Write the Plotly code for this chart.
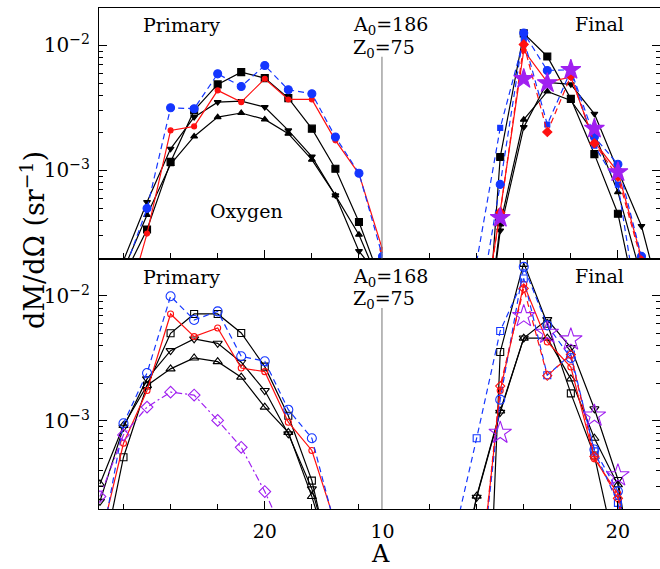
import plotly.graph_objects as go

# ---------------- data ----------------
# Primary fragments (left halves), even mass numbers
A_PRI_186 = [32, 30, 28, 26, 24, 22, 20, 18, 16, 14, 12, 10]
pri186_sq = [1.4e-4, 3.37e-4, 1.17e-3, 3.02e-3, 4.88e-3, 6.12e-3, 5.48e-3, 3.79e-3, 2.16e-3, 1.03e-3, 3.86e-4, 1.2e-4]
pri186_dt = [1.9e-4, 5.58e-4, 1.49e-3, 2.67e-3, 3.52e-3, 3.59e-3, 3.21e-3, 2.09e-3, 1.29e-3, 6.31e-4, 2.26e-4, 1.3e-4]
pri186_ut = [1.6e-4, 4.4e-4, 1.12e-3, 1.87e-3, 2.67e-3, 2.88e-3, 2.56e-3, 1.97e-3, 1.22e-3, 6.31e-4, 3.06e-4, 1.1e-4]
pri186_rc = [6.8e-5, 3.12e-4, 2.09e-3, 2.25e-3, 4.37e-3, 3.52e-3, 5.41e-3, 3.70e-3, 3.70e-3, 1.74e-3, 9.4e-4, 2.32e-4]
pri186_bc = [1.5e-4, 4.97e-4, 3.17e-3, 3.12e-3, 5.93e-3, 4.70e-3, 6.92e-3, 4.42e-3, 4.11e-3, 1.85e-3, 9.5e-4, 2.05e-4]

A_PRI_168 = [34, 32, 30, 28, 26, 24, 22, 20, 18, 16, 14]
pri168_sq = [6.3e-5, 5.12e-4, 1.92e-3, 5.03e-3, 7.18e-3, 7.18e-3, 5.06e-3, 2.72e-3, 1.10e-3, 3.33e-4, 5e-5]
pri168_dt = [2.27e-4, 8.9e-4, 2.17e-3, 3.65e-3, 4.53e-3, 4.18e-3, 2.95e-3, 1.75e-3, 7.87e-4, 2.86e-4, 6e-5]
pri168_ut = [3.13e-4, 9.2e-4, 1.92e-3, 2.61e-3, 3.19e-3, 2.98e-3, 2.24e-3, 1.29e-3, 8.1e-4, 2.48e-4, 6e-5]
pri168_rc = [1.07e-4, 6.62e-4, 1.75e-3, 7.18e-3, 4.73e-3, 5.54e-3, 2.65e-3, 2.48e-3, 9.76e-4, 5.8e-4, 1.5e-4]
pri168_bc = [8.9e-5, 9.57e-4, 2.42e-3, 9.95e-3, 6.43e-3, 7.53e-3, 3.29e-3, 3.0e-3, 1.23e-3, 7.27e-4, 1.4e-4]
pri168_dm = [2.48e-4, 7.73e-4, 1.29e-3, 1.70e-3, 1.61e-3, 1.01e-3, 6.15e-4, 2.72e-4, 1.05e-4, None, None]

# Final (cold) fragments (right halves)
A_FIN_186 = [14, 15, 16, 17, 18, 19, 20, 21, 22]
fin186_sq = [3e-6, 1.28e-3, 1.25e-2, 8.17e-3, 3.74e-3, 1.35e-3, 4.5e-4, 5.7e-5, None]
fin186_dt = [1e-5, 3.3e-4, 2.22e-3, 5.06e-3, 4.88e-3, 2.84e-3, 1.0e-3, 3.59e-4, 6.8e-5]
fin186_ut = [1e-5, 3.7e-4, 2.55e-3, 4.29e-3, 3.63e-3, 1.97e-3, 6.7e-4, 1.4e-4, None]
fin186_rc = [3e-5, 4.73e-4, 9.12e-3, 5.09e-3, 5.58e-3, 1.69e-3, 9.7e-4, 2.0e-4, None]
fin186_bc = [5.9e-5, 7.73e-4, 1.26e-2, 6.31e-3, 6.39e-3, 1.85e-3, 1.12e-3, 2.05e-4, None]
fin186_bs = [1.86e-4, 2.19e-3, 1.12e-2, 2.33e-3, 6.3e-3, 1.58e-3, 7.7e-4, 5e-5, None]
fin186_rd = [3e-5, 4.6e-4, 1.02e-2, 2.03e-3, 5.7e-3, 1.65e-3, 8.9e-4, 1.9e-4, None]
fin186_st = [None, 4.18e-4, 5.41e-3, 5.0e-3, 6.39e-3, 2.16e-3, 9.7e-4, None, None]

A_FIN_168 = [13, 14, 15, 16, 17, 18, 19, 20, 21]
fin168_sq = [None, 1e-7, 3.56e-3, 1.84e-2, 6.0e-3, 1.66e-3, 5.28e-4, 7.4e-5, None]
fin168_dt = [3e-5, 2.45e-4, 1.17e-3, 4.61e-3, 6.47e-3, 3.86e-3, 1.25e-3, 3.4e-4, 2e-5]
fin168_ut = [3e-5, 2.5e-4, 1.2e-3, 4.6e-3, 4.6e-3, 2.17e-3, 7.27e-4, 3.08e-4, 2e-5]
fin168_rc = [None, 3e-5, 1.75e-3, 1.24e-2, 4.28e-3, 2.7e-3, 4.97e-4, 2.61e-4, 3e-5]
fin168_bc = [None, 3e-5, 1.48e-3, 1.71e-2, 5.82e-3, 3.19e-3, 5.9e-4, 2.73e-4, 3e-5]
fin168_bs = [1.1e-4, 7.27e-4, 5.25e-3, 1.38e-2, 2.32e-3, 3.4e-3, 5.7e-4, 2.21e-4, 2e-5]
fin168_rd = [None, 3e-5, 1.9e-3, 1.15e-2, 2.3e-3, 3.4e-3, 5.2e-4, 2.4e-4, 2e-5]
fin168_st = [None, None, 8.02e-4, 6.88e-3, 5.06e-3, 4.48e-3, 1.10e-3, 3.66e-4, None]

Y_TICKS = [1e-3, 1e-2]
Y_TICK_TEXT = ["10<sup>\u22123</sup>", "10<sup>\u22122</sup>"]

# ---------------- styles ----------------
BLACK = "#000000"
RED = "#ff1010"
BLUE = "#1436ff"
PURPLE = "#a020f0"
DASH = "6px,4px"
DASHDOT = "7px,3px,2px,3px"

STY = {
    "sq": dict(symbol="square", color=BLACK, size=7, dash="solid"),
    "dt": dict(symbol="triangle-down", color=BLACK, size=6, dash="solid"),
    "ut": dict(symbol="triangle-up", color=BLACK, size=6, dash="solid"),
    "rc": dict(symbol="circle", color=RED, size=5, dash="solid"),
    "bc": dict(symbol="circle", color=BLUE, size=8, dash=DASH),
    "bs": dict(symbol="square", color=BLUE, size=5, dash=DASH),
    "rd": dict(symbol="diamond", color=RED, size=7, dash=DASH),
    "st": dict(symbol="star", color=PURPLE, size=15, dash=None),
    "dm": dict(symbol="diamond", color=PURPLE, size=9, dash=DASHDOT),
}
OPEN_SIZE = {"sq": 7, "dt": 8, "ut": 8, "rc": 6, "bc": 9, "bs": 7, "rd": 7, "st": 17, "dm": 9}

fig = go.Figure()


def add(x, y, key, xa, ya, filled):
    s = STY[key]
    sym = s["symbol"] if filled else s["symbol"] + "-open"
    size = s["size"] if filled else OPEN_SIZE[key]
    mode = "markers" if s["dash"] is None else "lines+markers"
    fig.add_trace(go.Scatter(
        x=x, y=y, mode=mode, xaxis=xa, yaxis=ya, showlegend=False,
        connectgaps=False,
        line=dict(color=s["color"], width=1.2, dash=s["dash"] or "solid"),
        marker=dict(symbol=sym, size=size, color=s["color"],
                    line=dict(color=s["color"], width=1.1)),
    ))


# A0=186 (filled symbols)
for key, vals in [("sq", pri186_sq), ("dt", pri186_dt), ("ut", pri186_ut),
                  ("rc", pri186_rc), ("bc", pri186_bc)]:
    add(A_PRI_186, vals, key, "x", "y", True)
for key, vals in [("sq", fin186_sq), ("dt", fin186_dt), ("ut", fin186_ut),
                  ("rc", fin186_rc), ("bc", fin186_bc), ("bs", fin186_bs),
                  ("rd", fin186_rd), ("st", fin186_st)]:
    add(A_FIN_186, vals, key, "x2", "y2", True)

# A0=168 (open symbols)
for key, vals in [("sq", pri168_sq), ("dt", pri168_dt), ("ut", pri168_ut),
                  ("rc", pri168_rc), ("bc", pri168_bc), ("dm", pri168_dm)]:
    add(A_PRI_168, vals, key, "x3", "y3", False)
for key, vals in [("sq", fin168_sq), ("dt", fin168_dt), ("ut", fin168_ut),
                  ("rc", fin168_rc), ("bc", fin168_bc), ("bs", fin168_bs),
                  ("rd", fin168_rd), ("st", fin168_st)]:
    add(A_FIN_168, vals, key, "x4", "y4", False)

# ---------------- axes ----------------
# geometry of the frame (x in 660-px units, widened to the layout width)
SX = 675 / 660
W, H = 675, 569
ML, MR, MT, MB = 97 * SX, 3 * SX, 8, 60
X_SPLIT = 283 / 560
Y_RANGE = [-3.705, -1.70]
FONT = "DejaVu Serif"

minor_y = [v * 10.0 ** e for e in (-4, -3, -2) for v in range(2, 10)]

common_x = dict(showline=True, linecolor="black", linewidth=1.2, mirror=True,
                ticks="inside", ticklen=8, tickwidth=1, tickcolor="black",
                showgrid=False, zeroline=False, tickmode="array",
                tickfont=dict(family=FONT, size=19, color="black"),
                ticklabelstandoff=5)
common_y = dict(type="log", range=Y_RANGE, showline=True, linecolor="black",
                linewidth=1.2, ticks="inside", ticklen=8, tickwidth=1,
                tickcolor="black", showgrid=False, zeroline=False,
                tickmode="array", tickvals=Y_TICKS,
                minor=dict(tickmode="array", tickvals=minor_y, ticks="inside",
                           ticklen=4, tickcolor="black", showgrid=False))

left_x = dict(common_x, range=[34.08, 10], domain=[0, X_SPLIT], tickvals=[20, 10],
              minor=dict(tickmode="array", tickvals=[12, 16, 24, 28, 32],
                         ticks="inside", ticklen=5, tickcolor="black", showgrid=False))
right_x = dict(common_x, range=[10, 10 + 277 / 23.5], domain=[X_SPLIT, 1], tickvals=[20],
               minor=dict(tickmode="array", tickvals=[12, 14, 16, 18],
                          ticks="inside", ticklen=5, tickcolor="black", showgrid=False))

fig.update_layout(
    xaxis=dict(left_x, anchor="y", showticklabels=False),
    xaxis2=dict(right_x, anchor="y2", showticklabels=False),
    xaxis3=dict(left_x, anchor="y3", ticktext=["20", "10"]),
    xaxis4=dict(right_x, anchor="y4", ticktext=["20"]),
    yaxis=dict(common_y, domain=[0.5, 1], anchor="x", ticktext=Y_TICK_TEXT,
               tickfont=dict(family=FONT, size=20, color="black"), ticklabelstandoff=4),
    yaxis2=dict(common_y, domain=[0.5, 1], anchor="x2", side="right", showticklabels=False),
    yaxis3=dict(common_y, domain=[0, 0.5], anchor="x3", ticktext=Y_TICK_TEXT,
                tickfont=dict(family=FONT, size=20, color="black"), ticklabelstandoff=4),
    yaxis4=dict(common_y, domain=[0, 0.5], anchor="x4", side="right", showticklabels=False),
)

# dividing line between primary and final halves
for xr, yr, top in [("x", "y", 0.805), ("x3", "y3", 0.802)]:
    fig.add_shape(type="line", xref=xr, yref=yr + " domain", x0=10, x1=10, y0=0, y1=top,
                  line=dict(color="#808080", width=2.2))


def px(x):
    return (x - 97) / 560


def py(y):
    return (H - MB - y) / (H - MT - MB)


def label(text, x, y, size=19, xanchor="center", angle=0):
    fig.add_annotation(text=text, x=px(x), y=py(y), xref="paper", yref="paper",
                       showarrow=False, xanchor=xanchor, yanchor="middle", textangle=angle,
                       font=dict(family=FONT, size=size, color="black"))


label("Primary", 179, 25)
label("Final", 597, 24)
label("A<sub>0</sub>=186", 349, 25, xanchor="left")
label("Z<sub>0</sub>=75", 349, 48, xanchor="left")
label("Oxygen", 244, 211)
label("Primary", 179, 277)
label("Final", 597, 276)
label("A<sub>0</sub>=168", 349, 277, xanchor="left")
label("Z<sub>0</sub>=75", 349, 299, xanchor="left")
label("A", 378, 554, size=24)
label("dM/d\u03a9 (sr<sup>\u22121</sup>)", 30, 240, size=27, angle=-90)

fig.update_layout(width=W, height=H, margin=dict(l=ML, r=MR, t=MT, b=MB),
                  plot_bgcolor="white", paper_bgcolor="white")

fig.write_html("out.html")
